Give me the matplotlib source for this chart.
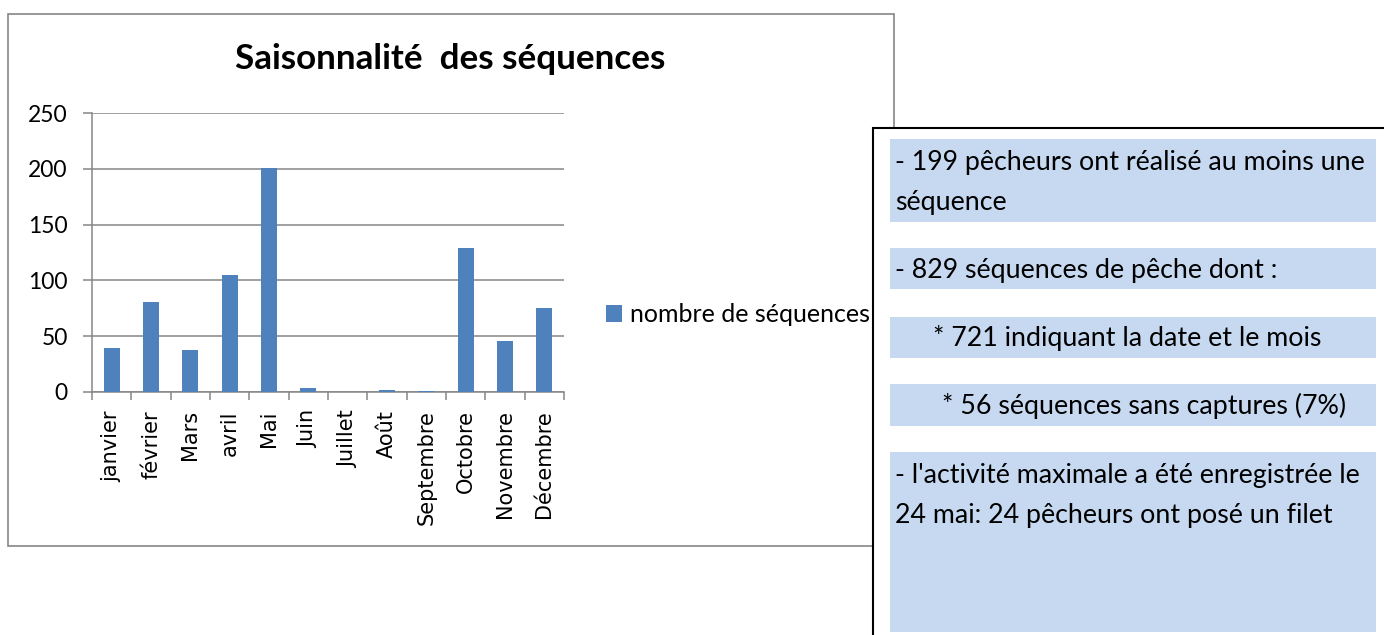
import matplotlib
matplotlib.use('Agg')
import matplotlib.pyplot as plt
from matplotlib.patches import Rectangle

# data
mois = ['janvier', 'février', 'Mars', 'avril', 'Mai', 'Juin', 'Juillet',
        'Août', 'Septembre', 'Octobre', 'Novembre', 'Décembre']
sequences = [39, 81, 38, 105, 201, 4, 0, 2, 1, 129, 46, 75]
yticks = [0, 50, 100, 150, 200, 250]

lignes = [
    ['- 199 pêcheurs ont réalisé au moins une', 'séquence'],
    ['- 829 séquences de pêche dont :'],
    ['* 721 indiquant la date et le mois'],
    ['* 56 séquences sans captures (7%)'],
    ["- l'activité maximale a été enregistrée le", '24 mai: 24 pêcheurs ont posé un filet'],
]

W, H = 1384, 635
bleu = '#4F81BD'
gris = '#868686'
fond = '#C6D9F1'
police = 'Lato'


def fx(x):
    return x / W


def fy(y):
    return 1 - y / H


fig = plt.figure(figsize=(W / 100, H / 100), dpi=100)

# cadre du graphique
fig.patches.append(Rectangle((fx(8), fy(546)), fx(894) - fx(8), fy(14) - fy(546),
                             transform=fig.transFigure, facecolor='white',
                             edgecolor=gris, lw=1.2, zorder=-1))

ax = fig.add_axes([fx(92), fy(392), fx(564) - fx(92), fy(113) - fy(392)])
ax.set_facecolor('none')
x = range(len(mois))
bars = ax.bar(x, sequences, width=0.41, color=bleu, label='nombre de séquences', zorder=3)
ax.set_xlim(-0.5, len(mois) - 0.5)
ax.set_ylim(0, 250)
ax.set_yticks(yticks)
ax.set_yticklabels([str(v) for v in yticks], fontfamily=police, fontsize=16.5)
ax.yaxis.grid(True, color=gris, lw=1.1, zorder=0)
ax.set_xticks(list(x))
ax.set_xticklabels(mois, rotation=90, fontfamily='DejaVu Sans', fontsize=15)
ax.set_xticks([i - 0.5 for i in range(len(mois) + 1)], minor=True)
ax.tick_params(axis='x', which='major', length=0, pad=13)
ax.tick_params(axis='x', which='minor', length=6, width=1.1, color=gris, direction='out')
ax.tick_params(axis='y', length=6.5, width=1.1, color=gris, pad=11)
for s in ['top', 'right']:
    ax.spines[s].set_visible(False)
for s in ['left', 'bottom']:
    ax.spines[s].set_color(gris)
    ax.spines[s].set_linewidth(1.1)

fig.text(fx(450), fy(59), 'Saisonnalité  des séquences', ha='center', va='center',
         fontfamily=police, fontweight='bold', fontsize=25.2)

fig.legend(handles=[bars], labels=['nombre de séquences'], loc='center left',
           bbox_to_anchor=(fx(606), fy(315)), frameon=False, borderpad=0,
           borderaxespad=0, handlelength=0.64, handleheight=0.64, handletextpad=0.3,
           prop={'family': police, 'size': 18})

# encadré de texte
fig.patches.append(Rectangle((fx(873), fy(640)), fx(1390) - fx(873), fy(128) - fy(640),
                             transform=fig.transFigure, facecolor='white',
                             edgecolor='black', lw=1.5, zorder=5))
bandes = [(139, 222), (248, 289), (317, 358), (384, 426), (452, 632)]
for (y0, y1) in bandes:
    fig.patches.append(Rectangle((fx(890), fy(y1)), fx(1376) - fx(890), fy(y0) - fy(y1),
                                 transform=fig.transFigure, facecolor=fond,
                                 edgecolor='none', zorder=6))

bases = [[170, 210], [278], [346], [414], [483, 523]]
gauches = [895, 895, 933, 942, 895]
for txts, ys, x0 in zip(lignes, bases, gauches):
    for t, yb in zip(txts, ys):
        fig.text(fx(x0), fy(yb), t, ha='left', va='baseline', fontfamily=police,
                 fontsize=19.25, zorder=7)

fig.savefig('out.png', dpi=100)
